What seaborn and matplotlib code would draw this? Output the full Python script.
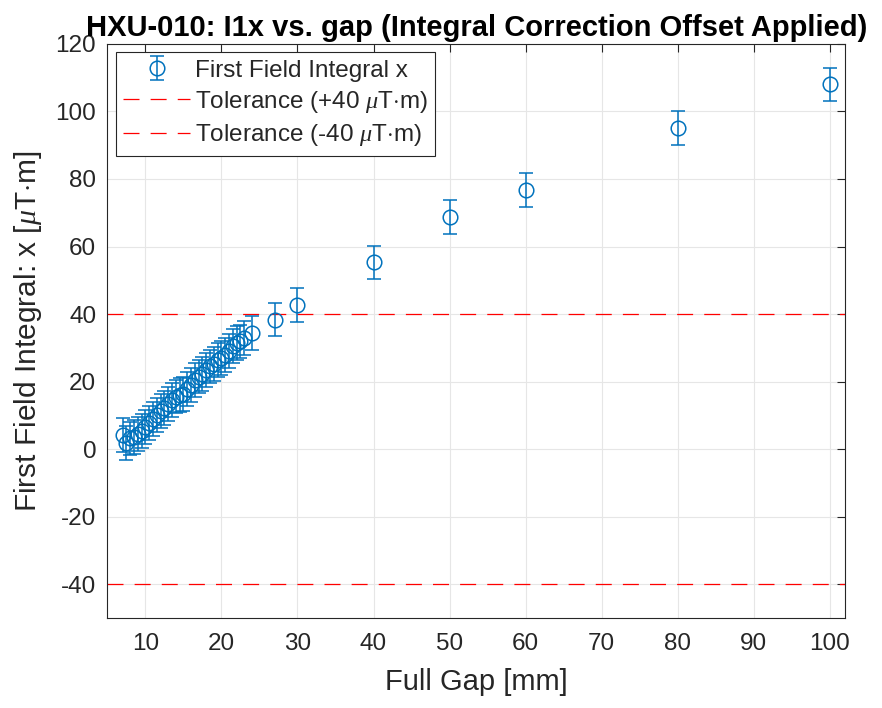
import numpy as np
import matplotlib
matplotlib.use("Agg")
import matplotlib.pyplot as plt
import seaborn as sns

# gap positions [mm] and first field integral x [uT*m]
gap = [7, 7.5, 8, 8.5, 9, 9.5, 10, 10.5, 11, 11.5, 12, 12.5, 13, 13.5, 14, 14.5,
       15, 15.5, 16, 16.5, 17, 17.5, 18, 18.5, 19, 19.5, 20, 20.5, 21, 21.5,
       22, 22.5, 23, 24, 27, 30, 40, 50, 60, 80, 100]
i1x = [4.3, 1.9, 3.2, 3.6, 4.6, 5.5, 6.6, 7.8, 9.0, 10.1, 11.2, 12.1, 13.3, 14.5,
       15.6, 16.0, 16.4, 17.8, 19.1, 20.4, 21.5, 22.3, 23.4, 24.5, 25.3, 26.4,
       27.0, 27.8, 29.1, 30.6, 31.4, 31.9, 33.0, 34.4, 38.4, 42.7, 55.3, 68.8,
       76.8, 95.1, 108.0]
i1x_err = [5.0] * len(gap)
tolerance = [40, -40]
tol_labels = ["Tolerance (+40 $\\mu$T$\\cdot$m)", "Tolerance (-40 $\\mu$T$\\cdot$m)"]

sns.set_style("whitegrid")
plt.rcParams['font.family'] = ['Liberation Sans', 'DejaVu Sans']
plt.rcParams['mathtext.fontset'] = 'custom'
plt.rcParams['mathtext.it'] = 'Liberation Serif:italic'
plt.rcParams['mathtext.rm'] = 'Liberation Sans'
plt.rcParams['axes.unicode_minus'] = False

fig = plt.figure(figsize=(8.82, 7.08), dpi=100)
ax = fig.add_axes([0.1217, 0.127, 0.8365, 0.811])

blue = "#0072BD"
eb = ax.errorbar(gap, i1x, yerr=i1x_err, fmt='o', mfc='none', mec=blue, color=blue,
                 ms=10.5, mew=1.1, elinewidth=1.1, capsize=5, capthick=1.1,
                 label="First Field Integral x", zorder=3)
tol_lines = []
for tol, lab in zip(tolerance, tol_labels):
    ln = ax.axhline(tol, color='red', ls=(0, (12.8, 8.9)), lw=0.9, label=lab, zorder=2)
    tol_lines.append(ln)

ax.set_xlim(5, 102)
ax.set_ylim(-50, 120)
ax.set_xticks(np.arange(10, 101, 10))
ax.set_yticks(np.arange(-40, 121, 20))
ax.tick_params(direction='in', length=5.5, width=0.8, labelsize=17.5, colors='#262626',
               top=True, right=True)
ax.tick_params(axis='x', pad=11)
ax.tick_params(axis='y', pad=8)
ax.grid(True, color='#e6e6e6', lw=0.8)
for s in ax.spines.values():
    s.set_color('#262626')
    s.set_linewidth(0.8)

ax.set_xlabel("Full Gap [mm]", fontsize=21, color='#262626', labelpad=9)
ax.set_ylabel("First Field Integral: x [$\\mu$T$\\cdot$m]", fontsize=21.5,
              color='#262626', labelpad=8)
ax.set_title("HXU-010: I1x vs. gap (Integral Correction Offset Applied)",
             fontsize=21, fontweight='bold', color='black', pad=6)

leg = ax.legend([eb] + tol_lines, ["First Field Integral x"] + tol_labels,
                loc='upper left', fontsize=17.5, fancybox=False, framealpha=1,
                edgecolor='#262626', borderaxespad=0.35, handlelength=2.75,
                handletextpad=0.2, borderpad=0.3, labelspacing=0.3)
leg.get_frame().set_linewidth(0.8)

fig.savefig("out.png", dpi=100)
